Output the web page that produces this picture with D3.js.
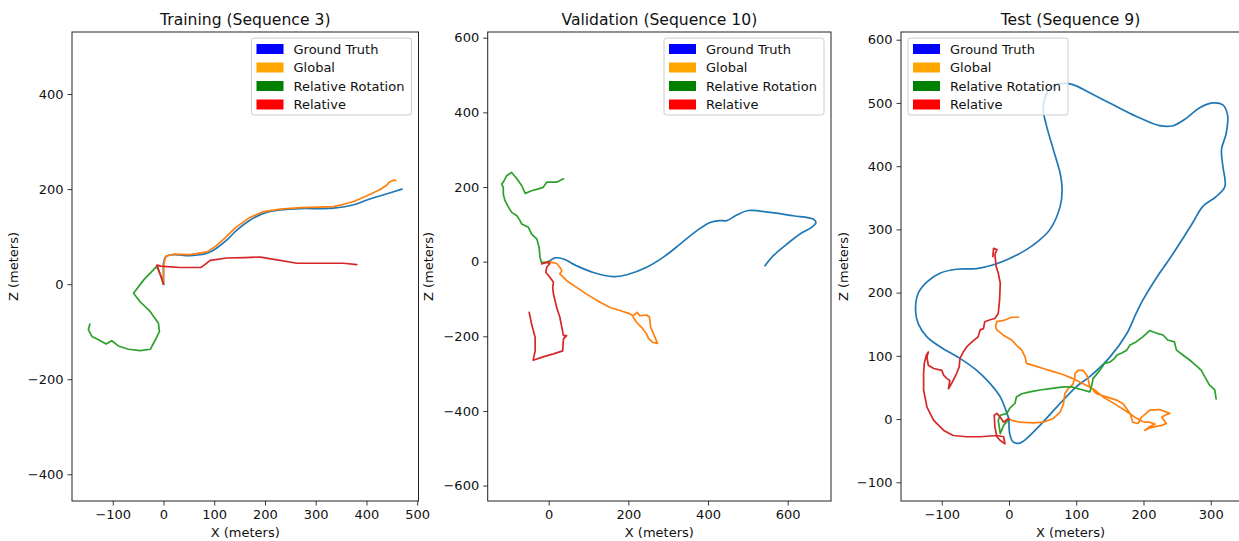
<!DOCTYPE html>
<html><head><meta charset="utf-8">
<script src="https://cdn.jsdelivr.net/npm/d3@7"></script>
<style>
body{margin:0;background:#fff}
svg{display:block}
text{font-family:"DejaVu Sans",sans-serif;fill:#111}
</style>
</head><body>
<svg id="chart" width="1239" height="541"></svg>
<script>
// ---------- categories / legend ----------
const seriesNames = ["Ground Truth", "Global", "Relative Rotation", "Relative"];
const legendColors = ["#0000ff", "#ffa500", "#008000", "#ff0000"];
const lineColors = ["#1f77b4", "#ff7f0e", "#2ca02c", "#d62728"];
const panelTitles = ["Training (Sequence 3)", "Validation (Sequence 10)", "Test (Sequence 9)"];
const xLabel = "X (meters)";
const yLabel = "Z (meters)";

// ---------- tick labels ----------
const xTicks1 = [-100, 0, 100, 200, 300, 400, 500];
const yTicks1 = [-400, -200, 0, 200, 400];
const xTicks2 = [0, 200, 400, 600];
const yTicks2 = [-600, -400, -200, 0, 200, 400, 600];
const xTicks3 = [-100, 0, 100, 200, 300];
const yTicks3 = [-100, 0, 100, 200, 300, 400, 500, 600];

// ---------- Training (Sequence 3) ----------
const gt1 = [[0,0],[0,15],[0,30],[0,44],[5,58],[20,62],[53,60],[86,65],[105,76],[125,93],[145,114],[171,135],[197,149],[230,156],[270,159],[309,159],[335,160],[375,167],[401,177],[434,188],[470,200]];
const global1 = [[0,0],[0,15],[0,30],[1,45],[5,59],[20,63],[53,62],[86,68],[103,80],[122,98],[142,119],[168,139],[195,152],[230,158],[270,161],[309,162],[335,163],[355,168],[375,174],[401,186],[427,199],[441,209],[444,214],[454,219],[458,218]];
const relRot1 = [[0,0],[-5,16],[-10,30],[-14,37],[-20,30],[-39,9],[-59,-19],[-46,-37],[-26,-58],[-10,-82],[-8,-100],[-16,-117],[-26,-137],[-46,-140],[-69,-137],[-89,-130],[-102,-119],[-113,-126],[-128,-117],[-141,-110],[-148,-96],[-145,-84]];
const rel1 = [[0,0],[-4,14],[-9,28],[-13,40],[-5,38],[7,37],[33,35],[73,35],[79,39],[92,50],[125,55],[160,56],[191,57],[224,51],[263,44],[309,44],[355,44],[381,41]];

// ---------- Validation (Sequence 10) ----------
const gt2 = [[0,0],[16,10],[37,7],[70,-11],[112,-29],[162,-40],[196,-35],[246,-15],[288,12],[330,47],[372,83],[405,105],[430,110],[447,110],[472,125],[501,137],[556,132],[614,123],[664,114],[671,105],[660,92],[631,74],[598,47],[564,16],[543,-11]];
const global2 = [[0,0],[8,-2],[20,-5],[28,-15],[33,-24],[28,-33],[37,-42],[45,-51],[70,-69],[95,-87],[129,-109],[154,-123],[179,-131],[204,-140],[212,-145],[222,-136],[229,-145],[246,-143],[253,-149],[256,-176],[267,-203],[273,-219],[261,-216],[250,-205],[246,-194],[233,-176],[221,-163],[212,-149]];
const relRot2 = [[0,0],[-10,-2],[-18,-2],[-22,12],[-24,38],[-30,61],[-43,74],[-51,92],[-68,101],[-72,110],[-80,123],[-93,132],[-101,146],[-110,164],[-114,181],[-114,199],[-118,208],[-114,213],[-105,231],[-93,239],[-80,222],[-68,204],[-59,183],[-43,190],[-26,195],[-14,199],[-5,213],[8,213],[20,213],[37,222]];
const rel2 = [[0,0],[-5,-2],[-18,-6],[-5,-2],[3,-5],[-5,-15],[-7,-29],[3,-42],[12,-55],[10,-70],[12,-87],[20,-123],[28,-149],[33,-176],[37,-198],[45,-198],[37,-207],[35,-239],[12,-247],[-14,-255],[-39,-264],[-34,-239],[-34,-203],[-43,-167],[-49,-136]];

// ---------- Test (Sequence 9) ----------
const gt3 = [[0,0],[1,-23],[6,-36],[16,-38],[26,-31],[46,-10],[71,19],[100,51],[120,67],[150,98],[175,135],[189,167],[199,188],[224,231],[234,246],[254,278],[273,310],[288,336],[308,352],[321,368],[318,400],[316,426],[323,452],[325,481],[318,497],[303,500],[283,492],[264,476],[244,464],[224,464],[189,479],[155,497],[120,516],[95,529],[81,531],[63,526],[54,510],[51,489],[56,463],[66,426],[76,389],[79,363],[76,336],[61,300],[43,281],[26,268],[1,254],[-23,244],[-48,238],[-78,237],[-102,231],[-122,217],[-135,199],[-139,172],[-135,151],[-122,130],[-102,114],[-73,96],[-48,77],[-28,56],[-13,35],[-3,9],[0,0]];
const global3 = [[0,0],[4,-2],[16,-5],[36,-6],[51,-5],[66,1],[76,11],[81,24],[83,40],[88,48],[95,55],[98,66],[98,72],[103,77],[110,77],[116,69],[118,61],[120,52],[125,46],[130,40],[145,35],[160,30],[170,24],[180,9],[184,-5],[192,-7],[197,3],[204,9],[209,14],[224,15],[234,11],[239,9],[232,6],[227,3],[234,-7],[227,-10],[217,-12],[207,-15],[202,-18],[209,-12],[217,-8],[209,-5],[202,-5],[195,-2],[187,3],[175,12],[160,22],[140,35],[125,48],[110,56],[95,64],[81,70],[66,75],[51,80],[36,85],[26,88],[24,98],[19,109],[11,117],[4,125],[-9,133],[-18,141],[-20,146],[-18,154],[-8,156],[4,161],[14,161]];
const relRot3 = [[0,0],[-8,-10],[-13,-23],[-16,-2],[-13,6],[-3,9],[1,17],[9,25],[11,35],[19,40],[31,43],[46,46],[61,48],[81,51],[93,51],[103,48],[110,46],[120,43],[123,53],[125,64],[135,77],[142,88],[150,90],[157,96],[160,101],[167,104],[175,109],[180,117],[189,122],[199,130],[209,140],[219,136],[229,133],[236,125],[246,122],[249,109],[259,101],[269,93],[278,85],[286,77],[291,67],[298,54],[306,46],[308,32]];
const rel3 = [[0,0],[-1,1],[-8,-5],[-13,3],[-18,9],[-22,6],[-21,-12],[-18,-28],[-13,-34],[-6,-39],[-8,-28],[-18,-26],[-43,-28],[-63,-28],[-83,-26],[-97,-18],[-112,-2],[-122,19],[-127,46],[-127,72],[-126,88],[-123,101],[-120,106],[-122,98],[-120,85],[-112,80],[-100,77],[-97,69],[-92,64],[-88,61],[-90,48],[-83,61],[-78,72],[-74,83],[-73,96],[-68,106],[-63,114],[-55,122],[-46,130],[-43,141],[-38,143],[-36,154],[-28,157],[-21,159],[-16,167],[-14,188],[-13,215],[-16,231],[-19,241],[-21,260],[-18,268],[-23,270],[-24,257]];

// ---------- layout ----------
const panels = [
  {title: panelTitles[0], series: [gt1, global1, relRot1, rel1], xTicks: xTicks1, yTicks: yTicks1,
   xDomain: [-180.3, 502.6], yDomain: [-456.2, 530.5], box: {l: 72, r: 418.5, t: 32, b: 501}, legendSide: "right", yLabelX: 13},
  {title: panelTitles[1], series: [gt2, global2, relRot2, rel2], xTicks: xTicks2, yTicks: yTicks2,
   xDomain: [-153.2, 708.8], yDomain: [-641.3, 615.3], box: {l: 487.7, r: 831, t: 32, b: 501}, legendSide: "right", yLabelX: 428},
  {title: panelTitles[2], series: [gt3, global3, relRot3, rel3], xTicks: xTicks3, yTicks: yTicks3,
   xDomain: [-160.6, 343.5], yDomain: [-129.6, 612.2], box: {l: 901, r: 1240, t: 32, b: 501}, legendSide: "left", yLabelX: 843}
];

const svg = d3.select("#chart");
const fmt = d3.format("d");

panels.forEach((p, pi) => {
  const {l, r, t, b} = p.box;
  const x = d3.scaleLinear().domain(p.xDomain).range([l, r]);
  const y = d3.scaleLinear().domain(p.yDomain).range([b, t]);
  const g = svg.append("g");

  const clipId = "clip" + pi;
  svg.append("clipPath").attr("id", clipId).append("rect")
    .attr("x", l).attr("y", t).attr("width", r - l).attr("height", b - t);

  // lines
  const lineGen = d3.line().x(d => x(d[0])).y(d => y(d[1]));
  const lines = g.append("g").attr("clip-path", `url(#${clipId})`);
  p.series.forEach((s, si) => {
    lines.append("path")
      .datum(s)
      .attr("d", si === 0 ? lineGen.curve(d3.curveCatmullRom.alpha(0.5))(s) : lineGen.curve(d3.curveLinear)(s))
      .attr("fill", "none")
      .attr("stroke", lineColors[si])
      .attr("stroke-width", 1.7)
      .attr("stroke-linejoin", "round")
      .attr("stroke-linecap", "round");
  });

  // axes
  const xAxis = d3.axisBottom(x).tickValues(p.xTicks).tickFormat(fmt).tickSize(4.5).tickPadding(4);
  const yAxis = d3.axisLeft(y).tickValues(p.yTicks).tickFormat(fmt).tickSize(4.5).tickPadding(4);
  const gx = g.append("g").attr("transform", `translate(0,${b})`).call(xAxis);
  const gy = g.append("g").attr("transform", `translate(${l},0)`).call(yAxis);
  [gx, gy].forEach(ax => {
    ax.select(".domain").remove();
    ax.selectAll(".tick line").attr("stroke", "#222").attr("stroke-width", 0.9);
    ax.selectAll(".tick text").attr("font-size", 13).attr("fill", "#111")
      .style("font-family", '"DejaVu Sans", sans-serif');
  });

  // frame
  g.append("rect").attr("x", l).attr("y", t).attr("width", r - l).attr("height", b - t)
    .attr("fill", "none").attr("stroke", "#222").attr("stroke-width", 1);

  // title
  g.append("text").attr("x", (l + r) / 2).attr("y", 25).attr("text-anchor", "middle")
    .attr("font-size", 15.6).text(p.title);
  // axis labels
  g.append("text").attr("x", (l + r) / 2).attr("y", 537).attr("text-anchor", "middle")
    .attr("font-size", 13).text(xLabel);
  g.append("text").attr("transform", `translate(${p.yLabelX + 4.5},${(t + b) / 2}) rotate(-90)`)
    .attr("text-anchor", "middle").attr("font-size", 13).text(yLabel);

  // legend
  const lw = 160, lh = 77;
  const lx = p.legendSide === "right" ? Math.min(r, 1239) - 7 - lw : l + 7;
  const ly = t + 6;
  const lg = g.append("g").attr("transform", `translate(${lx},${ly})`);
  lg.append("rect").attr("width", lw).attr("height", lh).attr("rx", 2.5)
    .attr("fill", "#fff").attr("fill-opacity", 0.8).attr("stroke", "#cccccc").attr("stroke-width", 1);
  seriesNames.forEach((name, i) => {
    const cy = 11 + i * 18.5;
    lg.append("rect").attr("x", 5).attr("y", cy - 5).attr("width", 27).attr("height", 10)
      .attr("fill", legendColors[i]);
    lg.append("text").attr("x", 42).attr("y", cy + 4.6).attr("font-size", 13).text(name);
  });
});
</script>
</body></html>
